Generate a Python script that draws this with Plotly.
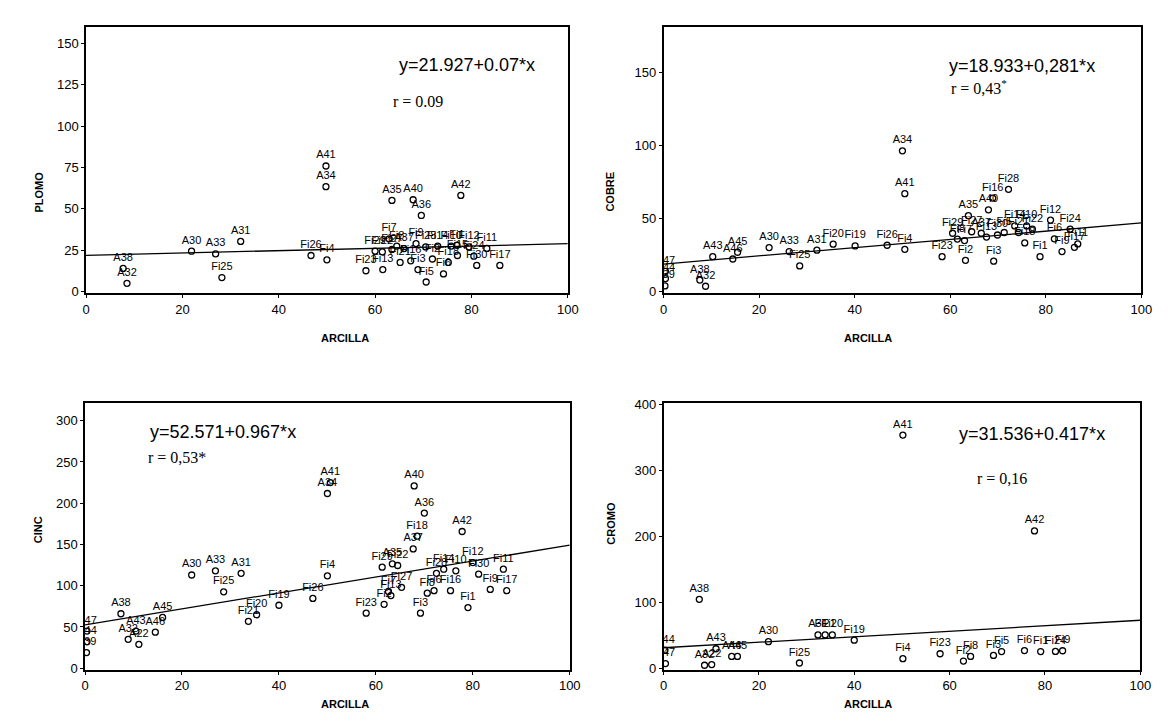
import plotly.graph_objects as go

# ---------------- data ----------------
x_title = "ARCILLA"
y_titles = ["PLOMO", "COBRE", "CINC", "CROMO"]

pb_labels = ["A38", "A32", "A30", "A33", "Fi25", "A31", "Fi26", "A34", "A41", "Fi4",
             "Fi23", "Fi29", "Fi13", "Fi22", "Fi7", "A35", "Fi27", "Fi8", "Fi21", "A37",
             "Fi16", "A40", "Fi9", "Fi3", "A36", "Fi28", "Fi5", "Fi2", "Fi14", "Fi6",
             "Fi18", "Fi10", "Fi1", "A42", "Fi15", "Fi12", "Fi24", "Fi30", "Fi11", "Fi17"]
pb_x = [7.7, 8.5, 21.9, 26.9, 28.2, 32.1, 46.7, 49.8, 49.8, 50.0,
        58.1, 60.0, 61.6, 61.5, 62.9, 63.5, 63.5, 64.5, 65.2, 66.0,
        67.4, 67.9, 68.5, 68.9, 69.6, 70.5, 70.6, 71.9, 73.0, 74.2,
        75.2, 75.8, 77.0, 77.8, 77.1, 79.5, 80.5, 81.1, 83.2, 85.9]
pb_y = [14.0, 5.0, 24.4, 22.8, 8.5, 30.3, 21.8, 63.4, 75.9, 19.2,
        12.6, 24.5, 13.3, 24.0, 31.9, 55.1, 25.5, 27.5, 17.6, 26.0,
        18.6, 55.5, 29.0, 13.3, 46.0, 27.0, 5.8, 19.7, 27.5, 10.7,
        17.6, 27.5, 28.0, 58.1, 21.8, 27.0, 21.4, 15.8, 26.1, 15.8]

cu_labels = ["A47", "A44", "A39", "A38", "A32", "A43", "A46", "A45", "A30", "A33",
             "Fi25", "A31", "Fi20", "Fi19", "Fi26", "Fi4", "A41", "A34", "Fi23", "Fi29",
             "Fi8", "Fi7", "Fi2", "A35", "Fi27", "A37", "Fi13", "A40", "Fi16", "Fi3",
             "Fi30", "Fi5", "Fi28", "Fi14", "Fi21", "Fi18", "Fi10", "Fi22", "Fi1", "Fi12",
             "Fi6", "Fi9", "Fi24", "Fi17", "Fi11"]
cu_x = [0.4, 0.4, 0.3, 7.6, 8.8, 10.3, 14.5, 15.5, 22.1, 26.3,
        28.5, 32.1, 35.5, 40.1, 46.8, 50.5, 50.5, 50.0, 58.3, 60.5,
        61.5, 63.0, 63.2, 63.8, 64.5, 66.5, 67.6, 68.0, 68.9, 69.1,
        69.9, 71.3, 72.2, 73.5, 74.3, 75.6, 76.0, 77.2, 78.8, 81.0,
        81.8, 83.4, 85.1, 86.0, 86.7]
cu_y = [14.0, 9.0, 4.0, 8.0, 3.8, 24.0, 22.4, 27.0, 30.2, 27.5,
        17.7, 28.4, 32.5, 31.3, 31.8, 29.0, 67.0, 96.3, 24.0, 40.0,
        36.0, 35.0, 21.5, 52.0, 41.0, 40.0, 37.4, 56.0, 64.0, 20.9,
        38.8, 40.5, 70.0, 45.0, 40.5, 33.4, 45.0, 42.8, 24.0, 49.0,
        36.2, 27.5, 42.8, 30.4, 32.7]

zn_labels = ["A47", "A44", "A39", "A38", "A32", "A43", "A22", "A46", "A45", "A30",
             "A33", "Fi25", "A31", "Fi21", "Fi20", "Fi19", "Fi26", "A34", "A41", "Fi4",
             "Fi23", "Fi29", "Fi2", "Fi7", "Fi13", "A35", "Fi22", "Fi27", "A37", "Fi18",
             "A40", "A36", "Fi3", "Fi8", "Fi6", "Fi28", "Fi14", "Fi16", "Fi10", "A42",
             "Fi1", "Fi12", "Fi30", "Fi9", "Fi11", "Fi17"]
zn_x = [0.4, 0.4, 0.3, 7.4, 8.9, 10.5, 11.1, 14.5, 16.0, 22.0,
        26.9, 28.6, 32.2, 33.7, 35.4, 40.0, 47.0, 50.0, 50.6, 50.0,
        58.0, 61.3, 61.7, 62.6, 63.1, 63.4, 64.5, 65.3, 67.7, 68.5,
        67.9, 70.0, 69.2, 70.6, 72.0, 72.5, 74.0, 75.4, 76.5, 77.8,
        79.0, 80.0, 81.2, 83.6, 86.3, 87.0]
zn_y = [45.0, 32.0, 19.0, 66.0, 35.0, 45.0, 29.0, 43.7, 61.6, 113.0,
        118.0, 92.6, 115.0, 56.8, 64.8, 76.3, 84.6, 211.8, 225.0, 112.0,
        66.7, 122.5, 77.5, 93.0, 88.0, 126.5, 124.5, 98.0, 144.6, 160.0,
        221.0, 188.0, 66.7, 91.0, 94.0, 115.0, 120.0, 94.0, 118.0, 165.7,
        73.5, 128.0, 114.0, 95.5, 120.0, 94.0]

cr_labels = ["A47", "A44", "A38", "A32", "A22", "A43", "A46", "A45", "A30", "Fi25",
             "A31", "Fi21", "Fi20", "Fi19", "Fi4", "A41", "Fi23", "Fi2", "Fi8", "Fi3",
             "Fi5", "Fi6", "A42", "Fi1", "Fi24", "Fi9"]
cr_x = [0.4, 0.3, 7.5, 8.6, 10.1, 11.0, 14.3, 15.5, 22.0, 28.5,
        32.4, 33.9, 35.4, 40.0, 50.2, 50.2, 58.0, 62.9, 64.4, 69.2,
        70.9, 75.7, 77.8, 79.1, 82.2, 83.7]
cr_y = [7.5, 28.0, 105.0, 5.0, 6.0, 30.0, 18.4, 18.4, 40.7, 8.4,
        51.0, 51.0, 51.0, 43.0, 15.0, 354.0, 22.4, 11.4, 18.4, 19.9,
        25.8, 27.3, 208.7, 25.8, 26.0, 27.0]

intercepts = [21.927, 18.933, 52.571, 31.536]
slopes = [0.07, 0.281, 0.967, 0.417]
eq_texts = ["y=21.927+0.07*x", "y=18.933+0,281*x", "y=52.571+0.967*x", "y=31.536+0.417*x"]
r_texts = ["r = 0.09", "r = 0,43<sup>*</sup>", "r = 0,53*", "r = 0,16"]
eq_pos = [(79, 137), (75, 154), (28.5, 286), (77.3, 356)]
r_pos = [(69, 115), (66, 140), (19, 256), (71, 288)]

x_ticks = [0, 20, 40, 60, 80, 100]
y_ticks = [[0, 25, 50, 75, 100, 125, 150],
           [0, 50, 100, 150],
           [0, 50, 100, 150, 200, 250, 300],
           [0, 100, 200, 300, 400]]
y_ranges = [[-1, 160], [-1, 181], [-2, 321], [-2, 402]]

# ---------------- layout geometry ----------------
W, H = 1169, 719
boxes = [  # left, right, top, bottom in pixels
    (75, 563, 13, 284),
    (660, 1144, 13, 284),
    (74, 565, 396, 667),
    (660, 1143, 396, 667),
]
xtitle_pos = [(311, 330), (893, 330), (311, 710), (893, 710)]
ytitle_pos = [(19, 158), (606, 158), (19, 540), (607, 542)]

series = [(pb_labels, pb_x, pb_y), (cu_labels, cu_x, cu_y),
          (zn_labels, zn_x, zn_y), (cr_labels, cr_x, cr_y)]

fig = go.Figure()
layout = dict(width=W, height=H, margin=dict(l=0, r=0, t=0, b=0),
              paper_bgcolor="white", plot_bgcolor="white", showlegend=False)
annotations = []

sans = "Liberation Sans, Arial, sans-serif"
tick_font = dict(family=sans, size=13, color="black")

for i, (labs, xs, ys) in enumerate(series):
    n = i + 1
    xa = "x" if n == 1 else f"x{n}"
    ya = "y" if n == 1 else f"y{n}"
    l, r, t, b = boxes[i]
    layout["xaxis" if n == 1 else f"xaxis{n}"] = dict(
        domain=[l / W, r / W], range=[0, 100], tickvals=x_ticks,
        showgrid=False, zeroline=False, showline=True, mirror=True,
        linecolor="black", linewidth=1.6, ticks="outside", ticklen=3,
        tickcolor="black", tickfont=tick_font, anchor=ya, fixedrange=True)
    layout["yaxis" if n == 1 else f"yaxis{n}"] = dict(
        domain=[1 - b / H, 1 - t / H], range=y_ranges[i], tickvals=y_ticks[i],
        showgrid=False, zeroline=False, showline=True, mirror=True,
        linecolor="black", linewidth=1.6, ticks="outside", ticklen=3,
        tickcolor="black", tickfont=tick_font, anchor=xa, fixedrange=True)

    # regression line from the fitted equation
    lx = [0, 100]
    ly = [intercepts[i] + slopes[i] * v for v in lx]
    fig.add_trace(go.Scatter(x=lx, y=ly, mode="lines", xaxis=xa, yaxis=ya,
                             line=dict(color="black", width=1.3), hoverinfo="skip"))
    # sample points with their labels
    fig.add_trace(go.Scatter(
        x=xs, y=ys, text=labs, mode="markers+text",
        textposition="top center", xaxis=xa, yaxis=ya,
        textfont=dict(family=sans, size=11, color="black"),
        marker=dict(symbol="circle-open", size=6, color="black", line=dict(width=1.3)),
        cliponaxis=True))

    annotations.append(dict(x=eq_pos[i][0], y=eq_pos[i][1], xref=xa, yref=ya,
                            text=eq_texts[i], showarrow=False,
                            font=dict(family=sans, size=18, color="black")))
    annotations.append(dict(x=r_pos[i][0], y=r_pos[i][1], xref=xa, yref=ya,
                            text=r_texts[i], showarrow=False,
                            font=dict(family="Liberation Serif, Times New Roman, serif",
                                      size=16, color="black")))
    annotations.append(dict(x=xtitle_pos[i][0] / W, y=1 - xtitle_pos[i][1] / H,
                            xref="paper", yref="paper", text="<b>" + x_title + "</b>",
                            showarrow=False,
                            font=dict(family=sans, size=11, color="black")))
    annotations.append(dict(x=ytitle_pos[i][0] / W, y=1 - ytitle_pos[i][1] / H,
                            xref="paper", yref="paper", text="<b>" + y_titles[i] + "</b>",
                            showarrow=False, textangle=-90,
                            font=dict(family=sans, size=11, color="black")))

layout["annotations"] = annotations
fig.update_layout(**layout)
fig.write_html("out.html")
